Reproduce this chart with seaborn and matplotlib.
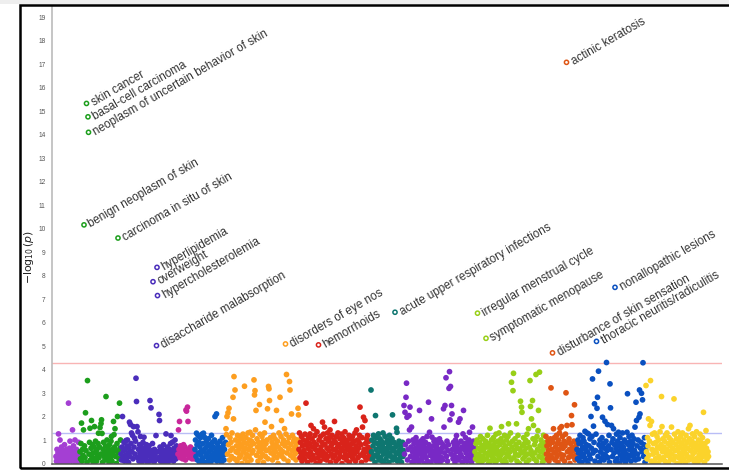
import matplotlib
matplotlib.use("Agg")
import matplotlib.pyplot as plt
import pandas as pd
import seaborn as sns
from matplotlib.patches import Rectangle

# -log10(p) per phenotype, in phecode order within each category
infectious = [
    .3, .1, .6, .2, .45, 1.26, .05, .35, 1.0, .5,
    .15, .7, .25, .4, .0, .55, .3, .8, .1, .45,
    .2, .6, .35, .05, .5, 2.57, .25, .65, .95, .15,
    .4, .1, .55, 1.43, .3, .75, .2, .45, 1.0, .05,
    .35, .6, .15, .5, .25, .9, .1, .4]
neoplasms = [
    .5, .2, .85, 1.72, .1, .6, .35, 1.43, 10.16, .75,
    .25, 2.16, .55, 15.33, .05, 3.53, 14.76, 14.1, .4, .9,
    1.5, .15, .65, 1.83, .3, .8, .45, .0, .7, 1.57,
    .2, .95, .5, .1, .6, .35, .85, 1.29, .25, .7,
    1.53, .4, 1.7, 1.86, 1.28, .05, .6, .9, .3, .5,
    .15, .75, 2.85, .45, 1.0, .2, .65, .35, .05, .8,
    .5, .25, .95, 1.15, .1, .6, .4, 1.79, 1.23, .7,
    1.48, .3, .55, .0, .85, 2.0, 9.6, .45, .2, 2.57,
    .65, 1.0]
endocrine = [
    .4, .15, .7, 2.0, .3, .55, .9, .1, .6, .35,
    .98, .2, .75, 1.0, .45, .05, .65, 1.76, .3, 1.66,
    .85, 1.3, .5, 1.2, .2, 1.57, .7, 1.08, .4, .95,
    3.63, 2.64, 1.57, .25, 1.35, .6, .1, .8, .45, 1.15,
    .3, .7, .05, .55, .9, .2, 1.12, .4, .65, .15,
    .5, .8, .3, .05, .6, .35, .75, .1, 2.68, .45,
    2.37, .2, .55, .85, 7.74, .3, .05, .6, .4, .15,
    1.19, 5.02, 8.35, 7.15, .5, .25, 2.09, 1.83, .7, .1,
    .45, .3, .6, .05, .35, .8, .2, .55, .4, .1,
    1.26, .5, .25, .7, .05, .45, .3, .6, .15, .85,
    1.19, .4, .2, .91, .55, .1, .65, .3, 1.0, .45,
    .2, .75, .35, .6]
hematopoietic = [
    .4, 1.43, .6, 1.79, .25, .75, .5, .35, .65, .2,
    .55, .8, .3, .45, .7, .15, 2.28, 2.23, .5, 2.4,
    1.79, .35, .6, .25, .45, .7, .3, .55, .2, .4,
    .6, .3, .5, .2]
neurological = [
    .6, 1.0, .3, 1.29, .8, .15, 1.2, .45, .9, .05,
    .7, 1.1, .35, .55, 1.25, .2, .85, 1.29, .5, .05,
    1.1, .65, .3, .95, .4, .75, .1, 1.05, .5, .25,
    .8, .0, .6, 1.2, .35, .9, .15, .7, .45, 1.0,
    2.0, .25, .6, 2.11, .1, .85, .4, .7, .2, .55,
    .95, .3, .65, .05, .5, 1.1, .35, .8, .15, .6,
    .4, .9]
sense_organs = [
    1.48, 1.23, 2.0, .4, 2.16, .8, 2.35, .15, 1.1, .55,
    .9, .3, 1.3, .65, 2.82, 1.9, 3.7, .2, 3.13, 1.0,
    .5, .75, .1, 1.2, .45, .95, .6, .25, 1.15, .8,
    .35, 1.05, .0, .7, 1.25, .5, .9, 3.29, .2, .65,
    1.1, .4, .85, .05, 1.3, .6, .3, 1.0, 1.33, .75,
    .15, .95, .45, 1.2, .55, .85, 3.56, 2.92, 3.1, 1.43,
    2.26, .35, 1.05, .7, .1, .9, .5, 2.51, 1.25, .25,
    .8, .6, 1.15, .4, .95, .05, .7, 1.3, 1.76, .3,
    .85, .55, 1.0, 2.33, .2, 3.28, 3.18, 2.68, .65, 1.1,
    .45, 1.57, .9, .15, .75, 1.2, .35, .6, 1.05, .5,
    .8, 2.26, .25, .95, .0, .7, 1.3, .4, 2.82, .6,
    1.15, 1.83, .3, .85, .5, 1.0, .2, 1.48, .75, 5.09,
    1.25, 3.79, .45, .9, .1, .65, 1.1, 3.49, 3.13, .35,
    .8, 2.11, .55, 1.2, .25, .95, .6, 1.05, .4, .7,
    .15, .85, .5, 1.0, 2.35, 2.07]
circulatory = [
    .6, 1.3, .25, .9, .45, 1.15, .1, .75, .35, 1.0,
    .55, .2, 1.25, .8, 2.57, .4, .95, .05, .65, 1.1,
    .3, .85, 1.26, .5, 1.62, .15, 1.05, .7, .35, 1.48,
    .9, .2, 1.2, .6, .0, .8, 1.35, .45, .25, 5.05,
    1.0, .55, .1, 1.15, .7, .35, .9, 1.76, .5, 1.25,
    .2, 1.55, .8, .4, 1.05, .15, .65, 1.3, .3, .95,
    .55, 1.1, 1.43, .05, .75, .4, 1.2, .85, .25, .6,
    1.0, 1.79, .35, .9, .1, 1.15, .5, .7, 1.3, .2,
    .8, .45, 1.05, .3, .65, 1.25, .0, .9, .55, 1.1,
    .25, .75, 1.35, .4, .95, .15, .6, 1.0, .35, .8,
    1.2, .05, .7, .5, 1.05, .3, .85, 1.15, .2, .6,
    .95, .4, 1.3, .1, .75, 1.43, .5, 1.0, .25, .65,
    .9, 1.2, 2.4, .35, .8, .05, 1.1, 1.55, .45, 1.97,
    .6, .3, 1.83, .85, .15, 1.05, .5, 1.19, .7, .25,
    .95, .4, .6, .2]
respiratory = [
    3.13, .5, 1.0, .2, .75, 1.2, .35, .9, .05, 2.04,
    .6, 1.1, .3, .85, .45, 1.26, .15, .7, 1.05, .25,
    .55, .95, .1, .8, 1.3, .4, .65, .0, 1.15, .5,
    .2, .9, .6, 1.0, .35, .75, .05, 1.2, .45, .85,
    .3, .65, 1.05, 2.07, .15, .55, .9, .25, 6.44, .7,
    .4, 1.5, 1.33, .1, .8, .5, .95, .2, .6, .35,
    .75, .05, .45, .9, .3, .55]
digestive = [
    2.47, .4, 2.18, .8, 2.82, 3.42, 1.97, .15, .6, .95,
    2.04, 1.43, 2.4, .3, .7, 1.55, .05, .5, 1.0, .25,
    .85, .45, .1, .65, 1.1, .35, .9, .2, .55, .75,
    .05, 2.26, .4, .95, .6, .15, .8, .3, 1.05, .5,
    .7, .0, .45, .9, .25, .65, 1.15, .1, .55, 2.61,
    .8, 1.33, .35, .6, .05, 1.9, 1.12, .45, .2, .75,
    .95, .3, .55, 1.0, .1, .7, .4, .85, .2, .6,
    .35, 1.05, .0, .5, .9, .25, .65, .15, .8, 2.33,
    1.55, .45, 2.47, .7, 3.65, .3, .95, .1, .55, .8,
    3.2, 3.91, 1.86, 3.28, .4, 2.47, 2.11, .6, .2, .9,
    .35, .75, .05, 1.0, .5, 1.19, .25, .65, .85, 1.76,
    .15, .55, 1.9, .4, .95, .3, .7, .05, 1.26, 2.26,
    .6, .85, .2, 1.1, .45, .75, .1, .9, .35, .6,
    1.0, 1.33, .25, .8, .5, .05, .7, 1.55, .4, .95,
    .2, .65]
genitourinary = [
    .5, .2, .85, .35, 1.0, 6.4, .1, .65, .4, .9,
    .25, 1.15, .55, .05, .75, .3, 1.05, .6, .15, .8,
    .45, .95, 5.33, .2, .7, 1.2, .35, .0, .85, .5,
    1.5, .1, .65, 1.0, .3, .75, .45, 1.1, .2, .6,
    .9, .05, 1.25, .4, .7, .15, .95, .5, 1.3, .25,
    .8, .35, 1.05, 1.57, .55, .1, .9, .45, .65, 1.2,
    .2, .75, .05, 1.0, .4, .6, 1.15, 1.69, .3, .85,
    .5, 1.3, .15, 3.46, .7, .95, 3.1, 3.84, .25, .55,
    1.05, .4, .8, 1.69, .1, .65, 1.2, .35, .9, .0,
    .6, 2.65, .45, 2.4, 2.18, .75, .2, 1.1, .5, .85,
    .3, 1.0, .65, .05, 1.25, .4, .9, 1.48, .15, .7,
    3.53, 2.43, .55, 1.9, .35, 2.68, 1.05, 1.62, .2, .8,
    .45, .95, 3.79, .1, 1.15, .6, 1.4, 2.26, .3, 3.89,
    .75, .5, 1.0, .25, .85, .05, .6, 1.2, .4, .7,
    .15, .9]
dermatologic = [
    1.15, .4, .75, .2, .95, .55, .1, .8, .35, 1.05,
    3.22, .6, .25, 4.71, .9, 1.48, .45, 1.1, .15, .7,
    .5, 1.2, .3, .85, .05, 1.0, .6, 1.3, 1.5, .4,
    .8, 1.57, .2, 1.15, .65, .35, .95, .1, .75, 1.25,
    3.01, 17.08, 1.62, .5, .9, .25, 1.05, .6, .0, .85,
    .4, 2.04, 1.65, .7, .3, .55, .95, 2.5, .15, .65,
    .35, .8]
musculoskeletal = [
    .6, .2, 1.0, .45, .85, .1, 1.2, .55, .3, .9,
    .05, .7, 1.1, .4, .95, .25, 1.37, .6, .15, .8,
    1.3, .5, .0, 1.26, .75, .35, 1.05, .2, 2.0, .65,
    1.15, 3.6, .45, 1.59, .9, 2.54, .1, .55, 1.25, 5.2,
    2.35, 2.82, .3, 3.93, .8, .05, 1.0, .5, .7, .2,
    1.1, 1.97, .4, .85, .15, .65, 1.8, .35, .95, 4.3,
    .55, 1.66, .25, .75, 1.2, .05, 3.39, 2.37, .6, 1.62,
    .9, .3, 1.05, 1.48, .45, .8, 7.5, .1, .65, 1.25,
    .2, .95, .5, 1.33, .75, .0, 1.1, .35, .6, .85,
    .15, 1.3, .45, .7, .25, 1.0, .55, .05, .9, .4,
    1.33, 2.97, .2, .8, 1.15, .6, .35, .95, .1, .7,
    1.2, .45, .85, .3, 1.05, .55, 1.55, .15, 2.61, 1.83,
    .75, .4, 1.0, .2, 1.97, 3.13, 2.11, .65, .9, 2.99,
    .5, 2.71, 4.29, .3, .8, 1.1, .05, .6]
symptoms = [
    3.32, .5, .2, 1.1, .75, 1.9, .35, .95, 1.62, 3.53,
    .1, 1.79, .6, 1.25, .4, .85, .05, 1.3, .55, .2,
    .9, .45, 1.15, .7, .0, 1.0, .3, .65, 1.35, .15,
    .8, 2.85, 1.57, .5, 1.05, .25, .7, .95, .1, 1.2,
    .45, .6, 1.3, .35, .85, .05, 1.1, .5, .75, .2,
    1.0, 1.55, .4, .65, .9, .15, 2.75, 1.25, .55, .3,
    .8, 1.05, .0, .6, 1.35, .25, .95, .45, .7, 1.15,
    .1, .85, .35, 1.3, .6, .2, 1.0, .5, .75, .05,
    1.2, .4, .9, .3, .65, 1.48, .15, 1.05, 1.62, .55,
    .8, .25, .95, 1.26, .4, .7, .1, 1.15, .5, .85,
    .2, 1.35, .6, .0, .75, 1.0, .35, .55, 1.25, .15,
    .9, .45, .7, 1.1, .3, 2.18, .6, .05, .85, .4,
    1.4, .65, .2, .95, .5, .3]

categories = ["infectious diseases", "neoplasms", "endocrine/metabolic",
              "hematopoietic", "neurological", "sense organs", "circulatory system",
              "respiratory", "digestive", "genitourinary", "dermatologic",
              "musculoskeletal", "symptoms"]
category_values = [infectious, neoplasms, endocrine, hematopoietic, neurological,
                   sense_organs, circulatory, respiratory, digestive, genitourinary,
                   dermatologic, musculoskeletal, symptoms]
palette = ["#a43fd3", "#1c9e1c", "#4a2dbb", "#c8279b", "#0b5cc4", "#fd9e1f",
           "#d9231a", "#0e7670", "#7829c5", "#98cf17", "#df5514", "#0a50c0",
           "#fbd32b"]

# labelled phenotypes above the significance line, in phecode order
hit_labels = [
    "benign neoplasm of skin", "skin cancer", "basal-cell carcinoma",
    "neoplasm of uncertain behavior of skin", "carcinoma in situ of skin",
    "overweight", "disaccharide malabsorption", "hyperlipidemia",
    "hypercholesterolemia", "disorders of eye nos", "hemorrhoids",
    "acute upper respiratory infections", "irregular menstrual cycle",
    "symptomatic menopause", "disturbance of skin sensation", "actinic keratosis",
    "thoracic neuritis/radiculitis", "nonallopathic lesions"]

bonferroni_line = 4.3
nominal_line = 1.3

rows = []
for cat, vals in zip(categories, category_values):
    for v in vals:
        rows.append((cat, v))
df = pd.DataFrame(rows, columns=["category", "logp"])
df["pos"] = range(len(df))
df["category"] = pd.Categorical(df["category"], categories=categories)
hits = df[df["logp"] > bonferroni_line]
rest = df[df["logp"] <= bonferroni_line]
centers = df.groupby("category", observed=True)["pos"].mean()

sns.set_style("white")
plt.rcParams["font.family"] = ["Liberation Sans", "DejaVu Sans"]

W, H = 729, 471
fig = plt.figure(figsize=(W / 100, H / 100), dpi=100)
fig.patch.set_facecolor("white")
ax = fig.add_axes([52 / W, (H - 463.5) / H, 670 / W, 458 / H])

ax.axhline(bonferroni_line, color="#f9b4b4", lw=1.0, zorder=1)
ax.axhline(nominal_line, color="#b9bdf6", lw=1.0, zorder=1)

color_map = dict(zip(categories, palette))
sns.scatterplot(data=rest, x="pos", y="logp", hue="category", palette=color_map,
                hue_order=categories, s=17, linewidth=0, legend=False, ax=ax, zorder=2)
sns.scatterplot(data=hits, x="pos", y="logp", hue="category", palette=color_map,
                hue_order=categories, s=9, linewidth=1.1, legend=False, ax=ax, zorder=3)
ring = ax.collections[-1]
ring.set_edgecolors(ring.get_facecolors())
ring.set_facecolors("white")

for (_, r), name in zip(hits.iterrows(), hit_labels):
    ax.annotate(name, (r["pos"], r["logp"]), xytext=(7, -3), textcoords="offset pixels",
                rotation=30, rotation_mode="anchor", ha="left", va="baseline",
                fontsize=8.4, color="#333333")

ax.set_xlim(-8, 1332)
ax.set_ylim(0, 19.5)
ax.set_xticks(centers.values)
ax.set_xticklabels([])
ax.set_yticks(range(0, 20))
ax.tick_params(axis="x", length=3, width=0.9, color="#555555", direction="out")
ax.tick_params(axis="y", length=3, width=0.8, color="#999999", labelsize=4.8,
               labelcolor="#555555", pad=1.5, direction="out")
ax.set_xlabel("")
ax.set_ylabel(r"$-\log_{10}(p)$", fontsize=7.8, color="#222222")
ax.yaxis.set_label_coords(-0.024, 0.451)

for side in ("top", "right"):
    ax.spines[side].set_visible(False)
ax.spines["left"].set_color("#bbbbbb")
ax.spines["left"].set_linewidth(1.2)
ax.spines["bottom"].set_color("#555555")
ax.spines["bottom"].set_linewidth(1.1)

# outer frame of the panel
fig.add_artist(Rectangle((0, (H - 4) / H), 1, 4 / H, transform=fig.transFigure,
                         facecolor="#eeeeee", edgecolor="none", clip_on=False))
fig.add_artist(Rectangle((19.5 / W, (H - 468) / H), 740 / W, 463 / H,
                         transform=fig.transFigure, fill=False, edgecolor="black",
                         linewidth=1.8, clip_on=False))

fig.savefig("out.png", dpi=100)
